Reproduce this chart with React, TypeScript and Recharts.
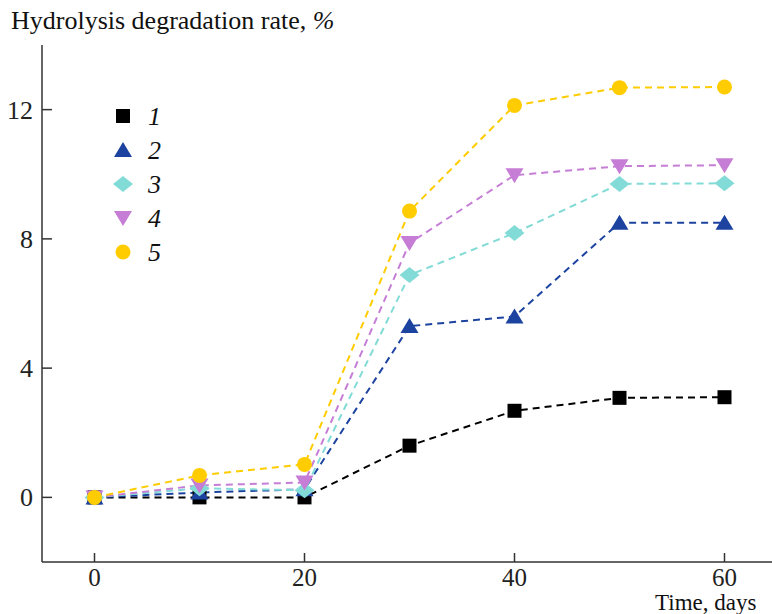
import { Line, LineChart, XAxis, YAxis } from 'recharts';

const days = [0, 10, 20, 30, 40, 50, 60];
const s1 = [0, 0, 0, 1.6, 2.68, 3.08, 3.1];
const s2 = [0, 0.15, 0.25, 5.3, 5.6, 8.5, 8.5];
const s3 = [0, 0.28, 0.22, 6.88, 8.18, 9.7, 9.72];
const s4 = [0, 0.37, 0.46, 7.87, 9.97, 10.25, 10.28];
const s5 = [0, 0.68, 1.02, 8.86, 12.13, 12.68, 12.7];
const xTicks = [0, 20, 40, 60];
const yTicks = [0, 4, 8, 12];

const data = days.map((d, i) => ({ day: d, s1: s1[i], s2: s2[i], s3: s3[i], s4: s4[i], s5: s5[i] }));

const FONT = '"Liberation Serif", "Times New Roman", serif';
const AXIS = '#333';
const PLOT_LEFT = 42;
const PLOT_BOTTOM = 562;

type Shape = 'square' | 'up' | 'diamond' | 'down' | 'circle';

const SERIES: { key: string; name: string; color: string; shape: Shape }[] = [
  { key: 's1', name: '1', color: '#000000', shape: 'square' },
  { key: 's2', name: '2', color: '#1d43a0', shape: 'up' },
  { key: 's3', name: '3', color: '#82dbd6', shape: 'diamond' },
  { key: 's4', name: '4', color: '#c67dd6', shape: 'down' },
  { key: 's5', name: '5', color: '#ffcc00', shape: 'circle' },
];

function marker(shape: Shape, cx: number, cy: number, color: string, k?: string) {
  switch (shape) {
    case 'square':
      return <rect key={k} x={cx - 7} y={cy - 7} width={14} height={14} fill={color} />;
    case 'up':
      return <polygon key={k} points={`${cx - 9},${cy + 7} ${cx + 9},${cy + 7} ${cx},${cy - 8}`} fill={color} />;
    case 'down':
      return <polygon key={k} points={`${cx - 9},${cy - 7} ${cx + 9},${cy - 7} ${cx},${cy + 8}`} fill={color} />;
    case 'diamond':
      return <polygon key={k} points={`${cx - 10},${cy} ${cx},${cy - 8} ${cx + 10},${cy} ${cx},${cy + 8}`} fill={color} />;
    default:
      return <ellipse key={k} cx={cx} cy={cy} rx={7.5} ry={7.5} fill={color} />;
  }
}

const YTick = (props: any) => {
  const { y, payload } = props;
  return (
    <g>
      <line x1={PLOT_LEFT} x2={PLOT_LEFT + 10} y1={y} y2={y} stroke={AXIS} strokeWidth={1.5} />
      <text x={PLOT_LEFT - 9} y={y} dy={9} textAnchor="end" style={{ fontFamily: FONT, fontSize: 26 }} fill="#222">
        {payload.value}
      </text>
    </g>
  );
};

const XTick = (props: any) => {
  const { x, payload } = props;
  return (
    <g>
      <line x1={x} x2={x} y1={PLOT_BOTTOM} y2={PLOT_BOTTOM - 9} stroke={AXIS} strokeWidth={1.5} />
      <text x={x} y={PLOT_BOTTOM + 24} textAnchor="middle" style={{ fontFamily: FONT, fontSize: 25 }} fill="#222">
        {payload.value}
      </text>
    </g>
  );
};

const LegendBox = () => (
  <svg width={80} height={170} style={{ position: 'absolute', left: 110, top: 100 }}>
    {SERIES.map((s, i) => (
      <g key={s.key}>
        {marker(s.shape, 13, 16 + i * 34, s.color)}
        <text
          x={38}
          y={16 + i * 34 + 9}
          style={{ fontFamily: FONT, fontStyle: 'italic', fontSize: 26 }}
          fill="#111"
        >
          {s.name}
        </text>
      </g>
    ))}
  </svg>
);

export default function App() {
  return (
    <div style={{ position: 'absolute', left: 0, top: 0, width: 772, height: 614, overflow: 'hidden', background: '#fff' }}>
      <LineChart width={780} height={614} data={data} margin={{ top: 45, right: 3, bottom: 0, left: 0 }}>
        <XAxis
          dataKey="day"
          type="number"
          domain={[-5, 65]}
          ticks={xTicks}
          height={52}
          axisLine={{ stroke: AXIS, strokeWidth: 1.5 }}
          tickLine={false}
          tick={<XTick />}
        />
        <YAxis
          type="number"
          domain={[-2, 14]}
          ticks={yTicks}
          width={42}
          axisLine={{ stroke: AXIS, strokeWidth: 1.5 }}
          tickLine={false}
          tick={<YTick />}
        />
        {SERIES.map((s) => (
          <Line
            key={s.key}
            dataKey={s.key}
            name={s.name}
            stroke={s.color}
            strokeWidth={2}
            strokeDasharray="7 5"
            isAnimationActive={false}
            dot={(p: any) => marker(s.shape, p.cx, p.cy, s.color, `${s.key}-${p.index}`)}
            activeDot={false}
          />
        ))}
      </LineChart>
      <LegendBox />
      <div style={{ position: 'absolute', left: 11, top: 6, fontFamily: FONT, fontSize: 26, color: '#111', whiteSpace: 'nowrap' }}>
        Hydrolysis degradation rate, <i>%</i>
      </div>
      <div style={{ position: 'absolute', left: 655, top: 593, fontFamily: FONT, fontSize: 23, lineHeight: '20px', color: '#111', whiteSpace: 'nowrap' }}>
        Time, days
      </div>
    </div>
  );
}
